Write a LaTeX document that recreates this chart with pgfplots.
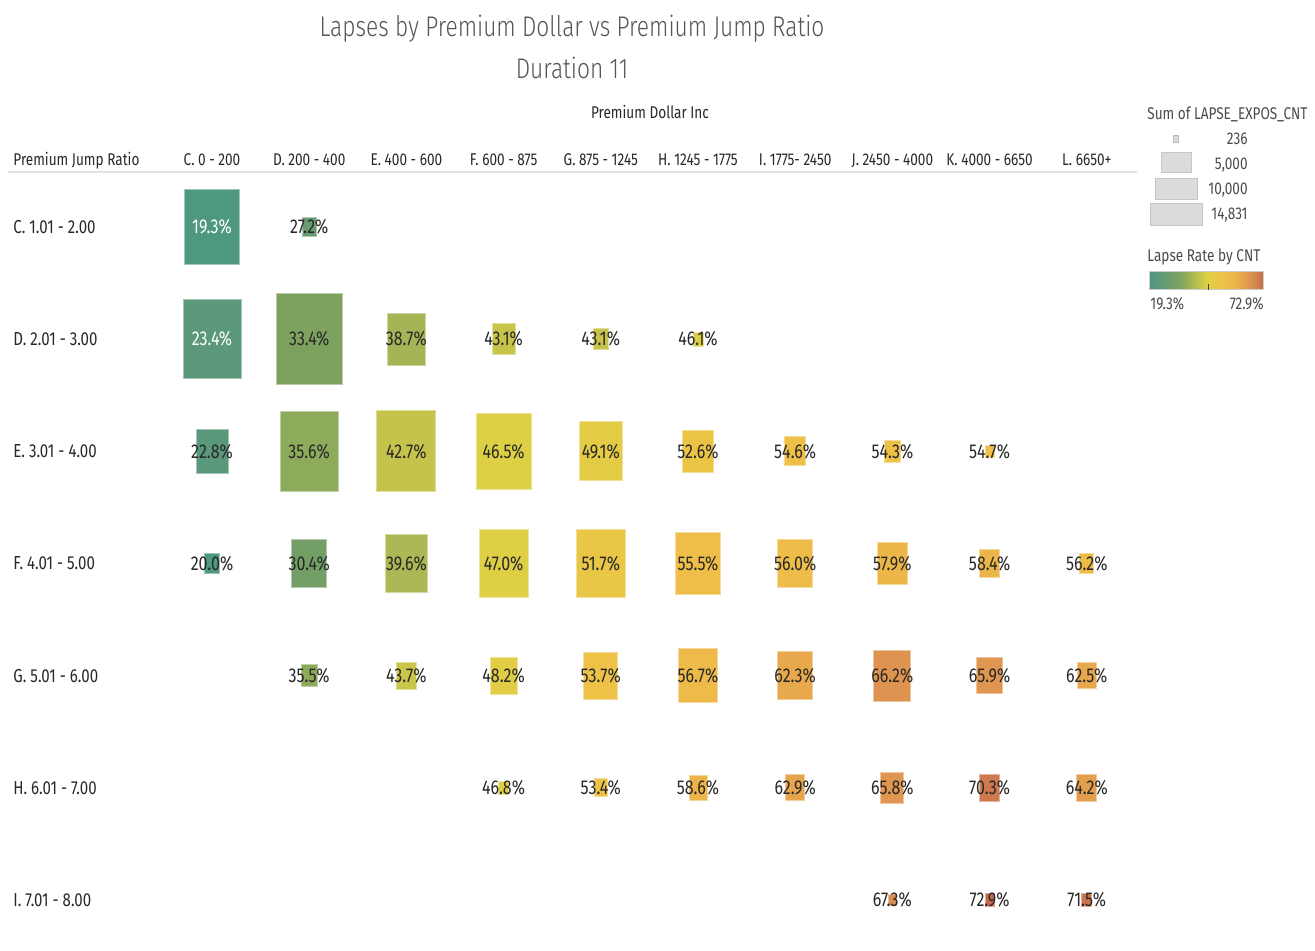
\documentclass[border=0pt]{standalone}
\usepackage{pgfplots}
\pgfplotsset{compat=1.18}
\usepackage{pgfplotstable}
\usepackage{fontspec}
\setmainfont{Fira Sans}[FakeStretch=0.8]
\newfontfamily\titlefont{Fira Sans Light}[FakeStretch=0.8]
\definecolor{txt}{RGB}{40,40,40}
\definecolor{ttl}{RGB}{85,85,85}
\definecolor{lgd}{RGB}{75,75,75}

\pgfplotstableread{
x y r w
1 0 27.2 14
1 1 33.4 66
2 1 38.7 38
3 1 43.1 23
4 1 43.1 15
5 1 46.1 10
0 2 22.8 32
1 2 35.6 58
2 2 42.7 59
3 2 46.5 55
4 2 49.1 43
5 2 52.6 31
6 2 54.6 21
7 2 54.3 16
8 2 54.7 9
0 3 20.0 15
1 3 30.4 35
2 3 39.6 42
3 3 47.0 49
4 3 51.7 49
5 3 55.5 45
6 3 56.0 35
7 3 57.9 30
8 3 58.4 20
9 3 56.2 14
1 4 35.5 16
2 4 43.7 20
3 4 48.2 27
4 4 53.7 34
5 4 56.7 39
6 4 62.3 35
7 4 66.2 37
8 4 65.9 26
9 4 62.5 19
3 5 46.8 10
4 5 53.4 13
5 5 58.6 18
6 5 62.9 19
7 5 65.8 23
8 5 70.3 20
9 5 64.2 20
7 6 67.3 8
8 6 72.9 9
9 6 71.5 10
}\darktab

\pgfplotstableread{
x y r w
0 0 19.3 55
0 1 23.4 58
}\whitetab

\pgfplotsset{
  boxstyle/.style={
    scatter, only marks, mark=square*,
    point meta=\thisrow{r},
    scatter/use mapped color={draw=mapped color!55!white, fill=mapped color},
    visualization depends on={0.25*\thisrow{w} \as \msz},
    scatter/@pre marker code/.append style={/tikz/mark size=\msz pt},
    mark options={yscale=1.37, line width=0.5pt},
  },
  labelstyle/.style={
    draw=none, mark=none,
    point meta=\thisrow{r},
    nodes near coords={\pgfmathprintnumber[fixed,fixed zerofill,precision=1]{\pgfplotspointmeta}\%},
    nodes near coords align={center},
    every node near coord/.append style={anchor=center, inner sep=0pt, font=\fontsize{10}{11}\selectfont, text=#1},
  },
}

\begin{document}
\begin{tikzpicture}
\path[use as bounding box] (0,0) rectangle (657.5pt,-475pt);
\begin{axis}[
  at={(81.7pt,-85.45pt)}, anchor=north west,
  scale only axis, width=486pt, height=387pt,
  xmin=-0.5, xmax=9.5, ymin=-0.5, ymax=6.4, y dir=reverse,
  clip=false,
  axis line style={draw=none}, major tick length=0pt,
  xtick={0,...,9},
  xticklabels={C. 0 - 200, D. 200 - 400, E. 400 - 600, F. 600 - 875, G. 875 - 1245, H. 1245 - 1775, I. 1775- 2450, J. 2450 - 4000, K. 4000 - 6650, L. 6650+},
  xticklabel pos=upper,
  xticklabel style={anchor=base, inner sep=0pt, yshift=2.95pt, font=\fontsize{8.5}{10}\selectfont, text=txt},
  ytick={0,...,6},
  yticklabels={C. 1.01 - 2.00, D. 2.01 - 3.00, E. 3.01 - 4.00, F. 4.01 - 5.00, G. 5.01 - 6.00, H. 6.01 - 7.00, I. 7.01 - 8.00},
  yticklabel style={anchor=west, inner sep=0pt, xshift=-75.2pt, font=\fontsize{9.4}{10}\selectfont, text=txt},
  point meta min=19.3, point meta max=72.9,
  colormap={lapse}{
    rgb255(0pt)=(78,152,127)
    rgb255(41pt)=(92,152,122)
    rgb255(141pt)=(125,162,95)
    rgb255(194pt)=(165,181,85)
    rgb255(234pt)=(197,195,75)
    rgb255(272pt)=(221,208,68)
    rgb255(333pt)=(235,196,70)
    rgb255(362pt)=(239,190,72)
    rgb255(430pt)=(232,168,76)
    rgb255(469pt)=(222,148,80)
    rgb255(510pt)=(206,122,80)
    rgb255(536pt)=(198,106,74)
  },
  colorbar horizontal,
  colorbar style={at={(parent axis.north east)}, anchor=north west,
    xshift=7.2pt, yshift=-41.55pt, scale only axis, width=57pt, height=9pt,
    xtick=\empty, ytick=\empty, axis line style={draw=gray!40, line width=0.4pt}},
  /pgf/number format/assume math mode=true,
]
\addplot[boxstyle] table[x=x,y=y] {\darktab};
\addplot[boxstyle] table[x=x,y=y] {\whitetab};
\addplot[labelstyle=txt] table[x=x,y=y] {\darktab};
\addplot[labelstyle=white] table[x=x,y=y] {\whitetab};
\end{axis}
% header rule
\draw[gray!22, line width=1.2pt] (4pt,-86pt) -- (568.5pt,-86pt);
% titles
\node[text=ttl, font=\titlefont\fontsize{14.2}{17}\selectfont] at (286pt,-14.5pt) {Lapses by Premium Dollar vs Premium Jump Ratio};
\node[text=ttl, font=\titlefont\fontsize{14.2}{17}\selectfont] at (286pt,-34pt) {Duration 11};
\node[text=txt, font=\fontsize{8.5}{10}\selectfont] at (325pt,-56pt) {Premium Dollar Inc};
\node[text=txt, font=\fontsize{8.5}{10}\selectfont, anchor=west, inner sep=0pt] at (6.5pt,-80.3pt) {Premium Jump Ratio};
% size legend
\node[text=lgd, font=\fontsize{8.5}{10}\selectfont, anchor=west, inner sep=0pt] at (573.5pt,-57pt) {Sum of LAPSE\_EXPOS\_CNT};
\filldraw[fill=gray!28, draw=gray!55, line width=0.5pt] (586.5pt,-67.5pt) rectangle (589pt,-71pt);
\filldraw[fill=gray!28, draw=gray!45, line width=0.5pt] (580.5pt,-76pt) rectangle (595.5pt,-86pt);
\filldraw[fill=gray!28, draw=gray!45, line width=0.5pt] (577.5pt,-89pt) rectangle (598.5pt,-99.5pt);
\filldraw[fill=gray!28, draw=gray!45, line width=0.5pt] (575pt,-101.5pt) rectangle (601pt,-112.5pt);
\node[text=lgd, font=\fontsize{8.5}{10}\selectfont, anchor=base east, inner sep=0pt] at (624pt,-72.4pt) {236};
\node[text=lgd, font=\fontsize{8.5}{10}\selectfont, anchor=base east, inner sep=0pt] at (624pt,-84.6pt) {5,000};
\node[text=lgd, font=\fontsize{8.5}{10}\selectfont, anchor=base east, inner sep=0pt] at (624pt,-97.1pt) {10,000};
\node[text=lgd, font=\fontsize{8.5}{10}\selectfont, anchor=base east, inner sep=0pt] at (624pt,-109.6pt) {14,831};
% colour legend
\node[text=lgd, font=\fontsize{8.5}{10}\selectfont, anchor=west, inner sep=0pt] at (573.5pt,-128.5pt) {Lapse Rate by CNT};
\draw[black!75, line width=0.5pt] (604pt,-145pt) -- (604pt,-141.8pt);
\node[text=lgd, font=\fontsize{8.5}{10}\selectfont, anchor=west, inner sep=0pt] at (575pt,-152pt) {19.3\%};
\node[text=lgd, font=\fontsize{8.5}{10}\selectfont, anchor=east, inner sep=0pt] at (632pt,-152pt) {72.9\%};
\end{tikzpicture}
\end{document}
